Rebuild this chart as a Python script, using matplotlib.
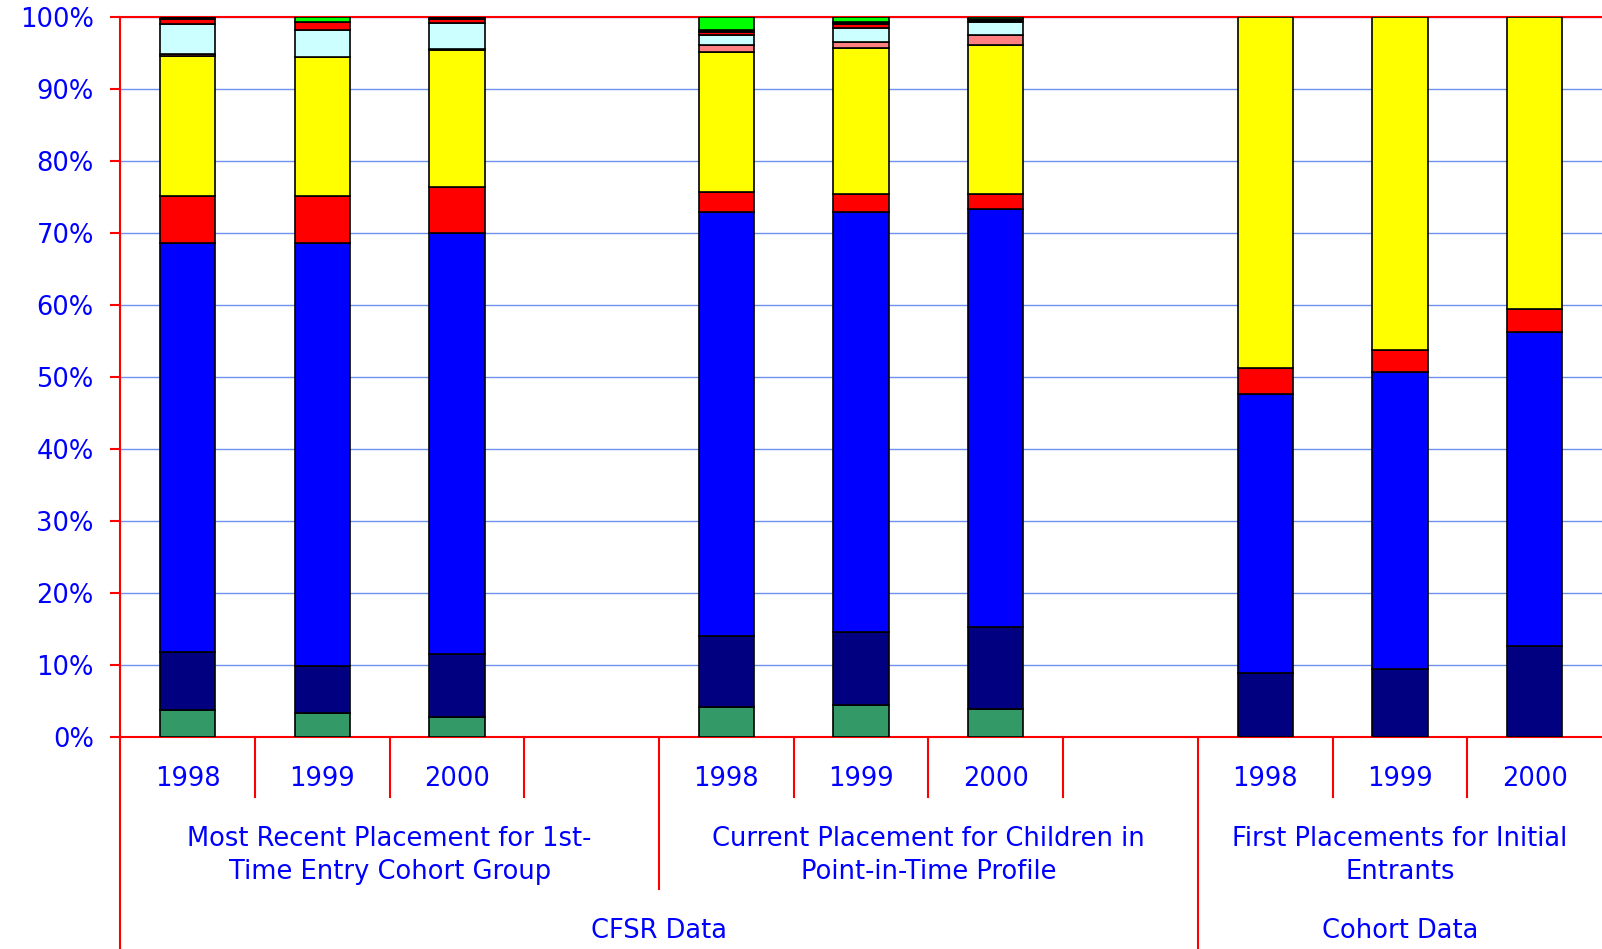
import numpy as np
import matplotlib
matplotlib.use("Agg")
import matplotlib.pyplot as plt
from matplotlib.ticker import FuncFormatter
import matplotlib.transforms as mtransforms

# slots 3 and 7 are empty spacer slots
bar_slots = [0, 1, 2, 4, 5, 6, 8, 9, 10]
years = ["1998", "1999", "2000"] * 3
group_labels = ["Most Recent Placement for 1st-\nTime Entry Cohort Group",
                "Current Placement for Children in\nPoint-in-Time Profile",
                "First Placements for Initial\nEntrants"]
group_spans = [(0, 4), (4, 8), (8, 11)]
top_labels = ["CFSR Data", "Cohort Data"]
top_spans = [(0, 8), (8, 11)]

# percent of children, bottom to top
green = [3.75, 3.3, 2.8, 4.1, 4.4, 3.9, 0, 0, 0]
navy = [8.1, 6.5, 8.7, 10.0, 10.2, 11.4, 8.9, 9.5, 12.6]
blue = [56.75, 58.8, 58.5, 58.8, 58.3, 58.1, 38.7, 41.2, 43.7]
red = [6.5, 6.5, 6.4, 2.8, 2.5, 2.0, 3.7, 3.1, 3.2]
yellow = [19.5, 19.4, 19.0, 19.5, 20.3, 20.8, 48.7, 46.2, 40.5]
salmon = [0.3, 0.0, 0.2, 1.0, 0.8, 1.4, 0, 0, 0]
cyan = [4.1, 3.7, 3.6, 1.4, 2.0, 1.8, 0, 0, 0]
red2 = [0.7, 1.1, 0.5, 0.3, 0.5, 0.0, 0, 0, 0]
black = [0.3, 0.1, 0.3, 0.3, 0.3, 0.3, 0, 0, 0]
lime = [0.0, 0.6, 0.0, 1.8, 0.7, 0.3, 0, 0, 0]

series = [green, navy, blue, red, yellow, salmon, cyan, red2, black, lime]
colors = ["#339966", "#000080", "#0000FF", "#FF0000", "#FFFF00",
          "#FF8080", "#CCFFFF", "#FF0000", "#000000", "#00FF00"]

txt = "#0000FF"
axc = "#FF0000"
fs = 18.5

fig = plt.figure(figsize=(16.02, 9.49), dpi=100)
ax = fig.add_axes([0.075, 0.2234, 0.925, 0.7584])

x = np.array(bar_slots) + 0.5
bottom = np.zeros(len(x))
for vals, c in zip(series, colors):
    vals = np.array(vals, dtype=float)
    m = vals > 0
    ax.bar(x[m], vals[m], bottom=bottom[m], width=0.41, color=c,
           edgecolor="black", linewidth=1.2, zorder=3)
    bottom += vals

ax.set_xlim(0, 11)
ax.set_ylim(0, 100)
ax.set_yticks(np.arange(0, 101, 10))
ax.yaxis.set_major_formatter(FuncFormatter(lambda v, p: f"{v:.0f}%"))
ax.grid(axis="y", color="#7090EE", linewidth=1, zorder=0)
ax.set_xticks([])
ax.tick_params(axis="y", direction="out", length=7, width=1.5, color=axc,
               labelcolor=txt, labelsize=fs, pad=12)

for s in ["left", "bottom", "top"]:
    ax.spines[s].set_color(axc)
    ax.spines[s].set_linewidth(1.5)
ax.spines["right"].set_visible(False)

# category axis, drawn by hand below the plot
tr = mtransforms.blended_transform_factory(ax.transData, ax.transAxes)
for b in range(1, 11):
    if b == 8:
        y1 = -0.32
    elif b == 4:
        y1 = -0.211
    else:
        y1 = -0.083
    ax.plot([b, b], [0, y1], color=axc, lw=1.5, transform=tr, clip_on=False)
ax.plot([0, 0], [0, -0.32], color=axc, lw=1.5, transform=tr, clip_on=False)

for xs, yr in zip(x, years):
    ax.text(xs, -0.058, yr, transform=tr, ha="center", va="center",
            color=txt, fontsize=fs)
for (a, b), lab in zip(group_spans, group_labels):
    ax.text((a + b) / 2, -0.165, lab, transform=tr, ha="center", va="center",
            color=txt, fontsize=fs, linespacing=1.35)
for (a, b), lab in zip(top_spans, top_labels):
    ax.text((a + b) / 2, -0.27, lab, transform=tr, ha="center", va="center",
            color=txt, fontsize=fs)

fig.savefig("out.png", dpi=100)
